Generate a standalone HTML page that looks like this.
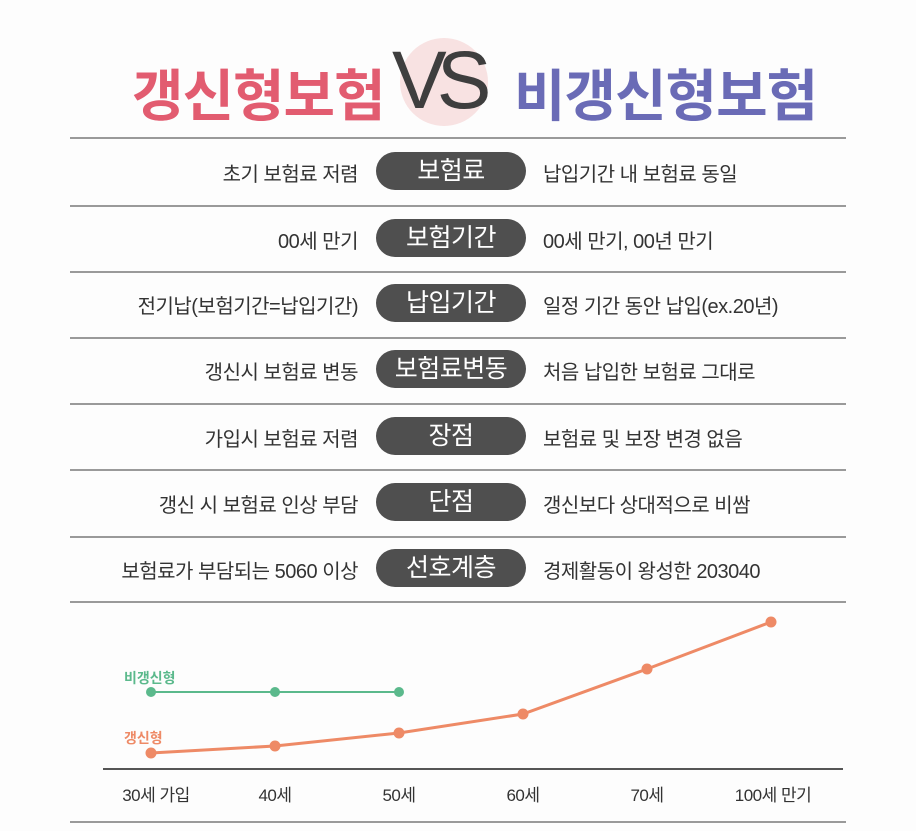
<!DOCTYPE html>
<html><head><meta charset="utf-8"><style>
body{margin:0;width:916px;height:831px;background:#fdfdfd;position:relative;overflow:hidden;font-family:"Liberation Sans","Noto Sans CJK KR",sans-serif;color:#333}
.t{position:absolute;white-space:nowrap}
.hl{position:absolute;left:70px;width:776px;height:2px;background:#9a9a9a}
.l{position:absolute;right:558px;font-size:20px;white-space:nowrap;letter-spacing:-0.5px}
.r{position:absolute;left:543px;font-size:20px;white-space:nowrap;letter-spacing:-0.5px}
.p{position:absolute;left:376px;width:150px;height:38px;border-radius:19px;background:#4f4f4f;color:#fff;font-size:25px;text-align:center;line-height:38px;letter-spacing:-0.5px}
</style></head><body>
<div style="position:absolute;left:400px;top:38px;width:88px;height:88px;border-radius:50%;background:#f8e2e2"></div>
<div class="t" style="left:132px;top:52px;font-size:56px;font-weight:bold;color:#e25c70;letter-spacing:-1px">갱신형보험</div>
<div class="t" style="left:392px;top:34px;font-size:82px;color:#3e3e3e;letter-spacing:-10px">VS</div>
<div class="t" style="left:514px;top:52px;font-size:56px;font-weight:bold;color:#6a6bb6;letter-spacing:-1px">비갱신형보험</div>

<div class="hl" style="top:137px"></div>
<div class="hl" style="top:205px"></div>
<div class="hl" style="top:271px"></div>
<div class="hl" style="top:337px"></div>
<div class="hl" style="top:403px"></div>
<div class="hl" style="top:469px"></div>
<div class="hl" style="top:536px"></div>
<div class="hl" style="top:601px"></div>

<div class="l" style="top:158px">초기 보험료 저렴</div><div class="p" style="top:152px">보험료</div><div class="r" style="top:158px">납입기간 내 보험료 동일</div>
<div class="l" style="top:225px">00세 만기</div><div class="p" style="top:219px">보험기간</div><div class="r" style="top:225px">00세 만기, 00년 만기</div>
<div class="l" style="top:290px">전기납(보험기간=납입기간)</div><div class="p" style="top:284px">납입기간</div><div class="r" style="top:290px">일정 기간 동안 납입(ex.20년)</div>
<div class="l" style="top:356px">갱신시 보험료 변동</div><div class="p" style="top:350px">보험료변동</div><div class="r" style="top:356px">처음 납입한 보험료 그대로</div>
<div class="l" style="top:423px">가입시 보험료 저렴</div><div class="p" style="top:417px">장점</div><div class="r" style="top:423px">보험료 및 보장 변경 없음</div>
<div class="l" style="top:489px">갱신 시 보험료 인상 부담</div><div class="p" style="top:483px">단점</div><div class="r" style="top:489px">갱신보다 상대적으로 비쌈</div>
<div class="l" style="top:555px">보험료가 부담되는 5060 이상</div><div class="p" style="top:549px">선호계층</div><div class="r" style="top:555px">경제활동이 왕성한 203040</div>

<svg style="position:absolute;left:0;top:0" width="916" height="831">
<line x1="103" y1="769" x2="843" y2="769" stroke="#555" stroke-width="2"/>
<line x1="70" y1="822" x2="846" y2="822" stroke="#9a9a9a" stroke-width="2"/>
<polyline points="151,692 275,692 399,692" fill="none" stroke="#5bb98c" stroke-width="2"/>
<g fill="#5bb98c"><circle cx="151" cy="692" r="5"/><circle cx="275" cy="692" r="5"/><circle cx="399" cy="692" r="5"/></g>
<polyline points="151,753 275,746 399,733 523,714 647,669 771,622" fill="none" stroke="#ee8a66" stroke-width="3"/>
<g fill="#ee8a66"><circle cx="151" cy="753" r="5.5"/><circle cx="275" cy="746" r="5.5"/><circle cx="399" cy="733" r="5.5"/><circle cx="523" cy="714" r="5.5"/><circle cx="647" cy="669" r="5.5"/><circle cx="771" cy="622" r="5.5"/></g>
<text x="124" y="683" font-size="14" font-weight="bold" fill="#5bb98c" font-family="Liberation Sans,Noto Sans CJK KR,sans-serif">비갱신형</text>
<text x="124" y="743" font-size="14" font-weight="bold" fill="#ee8a66" font-family="Liberation Sans,Noto Sans CJK KR,sans-serif">갱신형</text>
<g font-size="17" fill="#333" text-anchor="middle" letter-spacing="-0.5" font-family="Liberation Sans,Noto Sans CJK KR,sans-serif">
<text x="156" y="801">30세 가입</text><text x="275" y="801">40세</text><text x="399" y="801">50세</text><text x="523" y="801">60세</text><text x="647" y="801">70세</text><text x="773" y="801">100세 만기</text></g>
</svg>
</body></html>
